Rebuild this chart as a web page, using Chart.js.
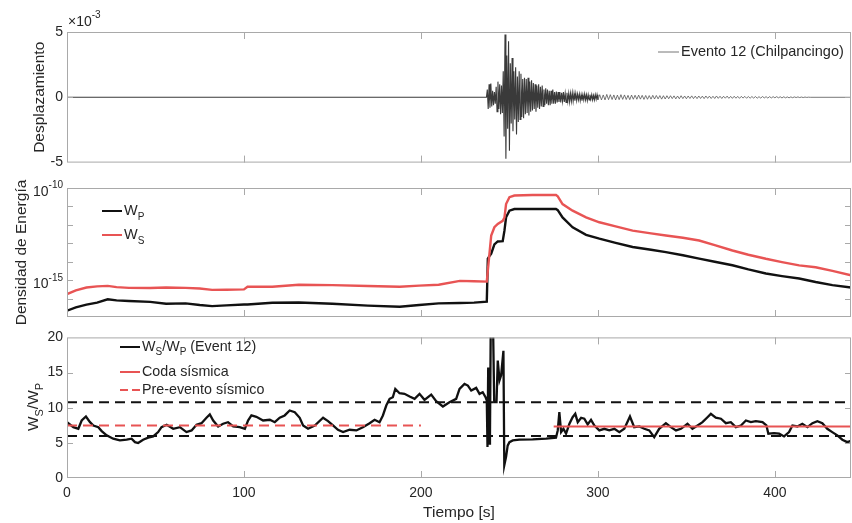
<!DOCTYPE html>
<html><head><meta charset="utf-8">
<script src="https://cdn.jsdelivr.net/npm/chart.js@4/dist/chart.umd.min.js"></script>
<style>
html,body{margin:0;padding:0;background:#fff;width:852px;height:523px;overflow:hidden}
canvas{position:absolute;left:0}
</style></head><body>
<canvas id="c1" width="852" height="175" style="top:0px"></canvas>
<canvas id="c2" width="852" height="150" style="top:175px"></canvas>
<canvas id="c3" width="852" height="198" style="top:325px"></canvas>
<script>
// ---------------- DATA ----------------
const xRange = [0, 443];            // Tiempo [s]
const xTicks = [0, 100, 200, 300, 400];

// Panel 1: displacement (units of 1e-3)
const seisQuiet = [0, 237];          // flat trace before arrival
const seisA_t0 = 237.5, seisA_dt = 0.5;
const seisA = [
  0.6,-0.9,1.0,-0.8,1.05,-0.7,0.5,-0.6,0.4,-0.5,
  0.8,-1.1,1.2,-0.9,1.0,-1.3,0.9,-1.2,2.0,-3.0,
  4.8,-4.7,3.2,-2.4,4.3,-4.1,2.6,-2.0,3.0,-2.6,
  2.0,-1.7,2.3,-2.85,1.6,-1.9,2.0,-1.7,1.8,-1.5,
  1.4,-1.6,1.5,-1.3,1.4,-1.2,1.5,-1.4,1.2,-1.1,
  1.3,-1.0,1.1,-0.9,1.0,-1.1,0.9,-0.8,1.0,-0.9,
  0.8,-0.7,0.9,-0.7,0.6,-0.6,0.7,-0.5,0.6,-0.6,
  0.5,-0.6,0.5,-0.5,0.6,-0.5,0.4,-0.5,0.45,-0.4,
  0.4,-0.35,0.4,-0.4,0.35,-0.3,0.4,-0.35,0.3,-0.4,
  0.35,-0.3,0.3,-0.35,0.3,-0.3,0.35,-0.3,0.3,-0.25,
  0.3,-0.25,0.25,-0.2,0.25,-0.25,0.2,-0.25,0.2,-0.2,
  0.25,-0.2,0.2,-0.25,0.2,-0.2,0.2,-0.15,0.2,-0.2,
  0.15,-0.2,0.2,-0.15,0.2,-0.2
];
const seisB_t0 = 301, seisB_dt = 1;
const seisB = [
  0.2,-0.2,0.18,-0.2,0.22,-0.18,0.2,-0.17,0.18,-0.2,
  0.17,-0.18,0.2,-0.16,0.18,-0.17,0.15,-0.18,0.17,-0.15,
  0.16,-0.15,0.17,-0.14,0.15,-0.16,0.14,-0.15,0.13,-0.14,
  0.15,-0.13,0.14,-0.12,0.13,-0.14,0.12,-0.13,
  0.12,-0.11,0.12,-0.1,0.11,-0.12,0.1,-0.11,0.12,-0.1,
  0.1,-0.11,0.1,-0.09,0.11,-0.1,0.09,-0.1,0.1,-0.09,
  0.09,-0.1,0.1,-0.08,0.09,-0.09,0.08,-0.09,0.1,-0.08,
  0.08,-0.09,0.08,-0.07,0.09,-0.08,0.07,-0.08,0.08,-0.07,
  0.07,-0.08,0.07,-0.06,0.07,-0.07,0.06,-0.07,0.06,-0.06,
  0.06,-0.07,0.05,-0.06,0.06,-0.05,0.05,-0.06,0.05,-0.05,
  0.05,-0.04,0.05,-0.04,0.04,-0.05,0.04,
  -0.04,0.03,-0.04,0.03,-0.03,0.03,-0.02,0.03,-0.02,0.02,-0.02,0.02,-0.01,0.01,0
];

// Panel 2: energy density (log10)
const eT = [0,5,11,17,23,28,35,47,56,67,75,82,90,100,102,116,131,150,170,188,199,210,222,230,
  237.2,237.8,238.7,239.7,241.5,243.4,246.2,247.2,248.1,250,252.8,263,276.3,277.3,280,285.7,293.3,
  300.8,310,319.6,330,338.4,348,357.2,366,376,385,394.9,404,413.7,423,432.5,443];
const wpLog = [-16.66,-16.48,-16.33,-16.22,-16.04,-16.1,-16.13,-16.18,-16.28,-16.26,-16.35,-16.41,-16.37,-16.32,-16.32,-16.23,-16.21,-16.28,-16.38,-16.44,-16.35,-16.26,-16.24,-16.22,
  -16.17,-13.83,-13.7,-13.56,-13.06,-12.9,-12.88,-12.3,-11.59,-11.23,-11.14,-11.14,-11.14,-11.2,-11.6,-12.13,-12.54,
  -12.75,-12.98,-13.2,-13.35,-13.48,-13.65,-13.83,-14.0,-14.19,-14.42,-14.64,-14.78,-14.91,-15.1,-15.27,-15.4];
const wsLog = [-15.76,-15.55,-15.4,-15.34,-15.31,-15.38,-15.42,-15.43,-15.4,-15.42,-15.45,-15.53,-15.52,-15.5,-15.36,-15.36,-15.25,-15.27,-15.32,-15.36,-15.3,-15.25,-15.04,-15.06,
  -15.08,-14.47,-13.57,-12.58,-12.13,-11.95,-11.78,-11.6,-10.87,-10.5,-10.41,-10.38,-10.38,-10.45,-10.87,-11.23,-11.59,
  -11.86,-12.08,-12.31,-12.46,-12.58,-12.7,-12.85,-13.1,-13.39,-13.62,-13.84,-14.02,-14.2,-14.3,-14.5,-14.74];
const eLogTickLabels = [-10, -15];

// Panel 3: Ws/Wp ratio
const ratioT = [0,3.6,6.4,8.3,10.7,13,14.9,17.7,19.6,22.4,26.1,29.9,33.7,36.5,38.4,40.2,43,45.9,48.7,51.5,53.4,56.3,60,63.8,67.5,70.4,73.2,76,78.8,80.7,82.6,85.4,88.2,91,93.9,97.6,100.5,102.3,104.2,107,110.8,114.6,117.4,120.2,123,125.8,128.7,131.5,133.4,136.2,140,144.7,147.5,150.3,153.1,156,159.7,163.5,167.2,171,173.8,176.6,178.5,180.4,182.3,184.1,185.5,187.9,190.7,193.6,196.4,199.2,202,205.8,208.6,212.4,216.1,219.9,221.8,224.6,226.5,228.4,231.2,233.1,234.9,236.5,237.2,237.6,238.0,238.5,239.0,239.5,240.6,241.4,242.7,243.4,244.4,245.3,246.6,247.1,248.1,249,250,251.9,255.6,263.1,270.7,276.3,277.3,278.2,279.2,280.5,282,283.9,285.7,287.2,288.6,290.5,292.3,294.2,296.1,298,300.8,303.6,306.4,309.3,312.1,314.9,318.1,320.5,323.4,326.2,329,331.8,334.6,338.4,341.2,344.1,346.9,350.6,353.4,356.3,359.1,361.9,363.8,366.6,369.5,372.3,375.1,377.9,380.8,383.6,386.4,389.2,393,395.2,396.3,399.5,402.4,405.2,408,409.9,412.7,415.5,418.4,421.2,424,426.8,429.6,432.4,435.3,438.1,440.9,443];
const ratioV = [7.94,7.23,7.0,8.18,8.75,7.94,7.47,7.23,6.67,6.06,5.59,5.35,5.45,5.59,5.1,4.97,5.45,5.73,5.91,6.53,7.23,7.57,7.0,7.23,6.53,6.77,7.57,7.8,8.57,9.04,8.18,7.33,7.72,7.94,7.33,7.23,7.0,8.18,8.9,8.7,8.18,8.28,7.94,8.57,8.9,9.6,9.36,8.57,7.47,7.0,7.47,8.57,8.09,7.47,6.86,6.53,6.86,6.77,7.23,7.8,8.28,7.94,8.9,10.31,11.26,11.49,12.68,12.06,11.97,11.59,11.26,11.97,11.12,11.87,10.92,10.17,10.78,11.26,12.68,13.39,13.15,12.44,12.82,11.97,12.2,11.49,11.0,4.4,15.7,4.9,5.8,24,24,10.78,10.78,16.7,13.9,14.6,18.1,1.8,3.0,4.6,5.1,5.35,5.45,5.49,5.59,5.73,6.77,9.36,6.53,7.0,6.3,7.72,8.65,9.13,7.94,8.57,8.43,7.62,8.28,7.47,6.77,7.0,6.77,7.0,6.53,7.0,8.75,7.23,7.33,7.0,6.77,5.82,7.0,7.8,7.23,6.77,7.0,7.72,7.0,7.47,7.94,8.65,9.13,8.57,8.43,7.8,7.94,7.23,7.47,8.18,7.94,8.09,7.94,7.47,6.3,6.39,6.3,5.91,6.53,7.47,7.33,7.72,7.23,7.8,8.09,7.8,7.0,6.53,6.06,5.45,5.1,5.3];
const codaMean = 7.33, codaSpan = [275, 443];
const preMean = 7.48, preSpan = [0, 200];
const bandUpper = 10.78, bandLower = 5.96;

// ---------------- STYLE ----------------
const FONT = '"Liberation Sans", Arial, Helvetica, sans-serif';
const TXT = '#262626';
const BOX = '#a9a9a9';
const RED = 'rgb(232,84,84)';
Chart.defaults.font.family = FONT;
Chart.defaults.color = TXT;

function richParts(str){
  const parts=[]; const re=/([_^])\{([^}]*)\}/g; let last=0,m;
  while((m=re.exec(str))){ if(m.index>last) parts.push({t:str.slice(last,m.index),k:''});
    parts.push({t:m[2],k:m[1]}); last=re.lastIndex; }
  if(last<str.length) parts.push({t:str.slice(last),k:''});
  return parts;
}
function drawRich(ctx,str,x,y,size,align,color){
  const parts=richParts(str); const small=Math.round(size*0.72); let w=0;
  parts.forEach(p=>{ctx.font=(p.k?small:size)+'px '+FONT; p.w=ctx.measureText(p.t).width; w+=p.w;});
  let cx = align==='right'? x-w : align==='center'? x-w/2 : x;
  ctx.fillStyle=color; ctx.textBaseline='middle'; ctx.textAlign='left';
  parts.forEach(p=>{ctx.font=(p.k?small:size)+'px '+FONT;
    const dy = p.k==='_'? size*0.4 : p.k==='^'? -size*0.45 : 0;
    ctx.fillText(p.t,cx,y+dy); cx+=p.w;});
}
function makeDeco(cfg){
  return {
    id:'deco',
    afterDatasetsDraw(chart){
      const {ctx, chartArea:a, scales}=chart; const L=7;
      ctx.save(); ctx.strokeStyle=BOX; ctx.lineWidth=1; ctx.setLineDash([]);
      ctx.strokeRect(a.left+0.5,a.top+0.5,a.right-a.left-1,a.bottom-a.top-1);
      ctx.beginPath();
      scales.x.ticks.forEach(t=>{const p=Math.round(scales.x.getPixelForValue(t.value))+0.5;
        if(p<=a.left+2||p>=a.right-2) return;
        ctx.moveTo(p,a.bottom); ctx.lineTo(p,a.bottom-L); ctx.moveTo(p,a.top); ctx.lineTo(p,a.top+L);});
      scales.y.ticks.forEach(t=>{const p=Math.round(scales.y.getPixelForValue(t.value))+0.5;
        if(p<=a.top+2||p>=a.bottom-2) return;
        ctx.moveTo(a.left,p); ctx.lineTo(a.left+6,p); ctx.moveTo(a.right,p); ctx.lineTo(a.right-6,p);});
      ctx.stroke(); ctx.restore();
    },
    afterDraw(chart){
      const ctx=chart.ctx; ctx.save();
      (cfg.texts||[]).forEach(t=>{
        if(t.rotate){ ctx.save(); ctx.translate(t.x,t.y); ctx.rotate(-Math.PI/2);
          drawRich(ctx,t.text,0,0,t.size,t.align||'center',TXT); ctx.restore(); }
        else drawRich(ctx,t.text,t.x,t.y,t.size,t.align||'left',TXT);
      });
      if(cfg.logLabels){
        const ys=chart.scales.y;
        cfg.logLabels.forEach(e=>{const p=ys.getPixelForValue(Math.pow(10,e));
          drawRich(ctx,'10^{'+e+'}',63,p+4,14,'right',TXT);});
      }
      if(cfg.legend){
        const lg=cfg.legend; let i=0;
        chart.data.datasets.forEach(ds=>{
          if(!ds.legendText) return; const y=lg.rows[i++];
          ctx.strokeStyle=ds.legendColor||ds.borderColor; ctx.lineWidth=lg.lw||Math.min(ds.borderWidth,2);
          ctx.setLineDash(ds.legendDash||[]);
          ctx.beginPath(); ctx.moveTo(lg.x,y); ctx.lineTo(lg.x+lg.len,y); ctx.stroke();
          ctx.setLineDash([]);
          drawRich(ctx,ds.legendText,lg.x+lg.len+2,y,lg.size,'left',TXT);
        });
      }
      ctx.restore();
    }
  };
}
function xScale(height, showLabels){
  return {type:'linear',min:xRange[0],max:xRange[1],
    ticks:{display:showLabels,stepSize:100,includeBounds:false,padding:7,color:TXT,font:{size:14}},
    afterBuildTicks:s=>{s.ticks=xTicks.map(v=>({value:v}));},
    grid:{display:false,drawTicks:false},border:{display:false},
    title:{display:showLabels,text:'Tiempo [s]',font:{size:15.5},color:TXT,padding:{top:0,bottom:1}},
    afterFit:s=>{s.height=height;}};
}
const base = {responsive:false,animation:false,events:[],
  elements:{point:{radius:0},line:{tension:0,borderCapStyle:'butt',borderJoinStyle:'miter'}}};

// ---------- Chart 1 ----------
const seisData=[{x:seisQuiet[0],y:0},{x:seisQuiet[1],y:0}];
seisA.forEach((v,i)=>seisData.push({x:seisA_t0+i*seisA_dt,y:v}));
seisB.forEach((v,i)=>seisData.push({x:seisB_t0+i*seisB_dt,y:v}));
seisData.push({x:xRange[1],y:0});
new Chart(document.getElementById('c1'),{
  type:'line',
  data:{datasets:[{data:seisData,borderColor:'#3a3a3a',borderWidth:1.1,
    segment:{borderWidth:c=>c.p0.parsed.x>=seisB_t0-1?0.8:1.1, borderColor:c=>c.p0.parsed.x>=seisB_t0-1?'#555':'#3a3a3a'},
    legendText:'Evento 12 (Chilpancingo)',legendColor:'#777'}]},
  options:Object.assign({},base,{
    layout:{padding:{top:32,right:1,bottom:0,left:0}},
    plugins:{legend:{display:false},tooltip:{enabled:false}},
    scales:{
      x:xScale(8,false),
      y:{min:-5,max:5,ticks:{stepSize:5,padding:4,color:TXT,font:{size:14}},
        grid:{display:false,drawTicks:false},border:{display:false},
        title:{display:true,text:'Desplazamiento',font:{size:15.5},color:TXT,padding:{top:30,bottom:0}},
        afterFit:s=>{s.width=67;}}
    }}),
  plugins:[makeDeco({texts:[{text:'×10^{-3}',x:68,y:22,size:14}],
    legend:{x:658,len:21,size:14.5,rows:[52],lw:1}})]
});

// ---------- Chart 2 ----------
const wpData=eT.map((t,i)=>({x:t,y:Math.pow(10,wpLog[i])}));
const wsData=eT.map((t,i)=>({x:t,y:Math.pow(10,wsLog[i])}));
new Chart(document.getElementById('c2'),{
  type:'line',
  data:{datasets:[
    {data:wpData,borderColor:'#111111',borderWidth:2.4,legendText:'W_{P}',order:2},
    {data:wsData,borderColor:RED,borderWidth:2.4,legendText:'W_{S}',order:1}
  ]},
  options:Object.assign({},base,{
    layout:{padding:{top:13,right:1,bottom:0,left:0}},
    plugins:{legend:{display:false},tooltip:{enabled:false}},
    scales:{
      x:xScale(8,false),
      y:{type:'logarithmic',min:1e-17,max:1e-10,ticks:{display:false},
        afterBuildTicks:s=>{const t=[];for(let e=-17;e<=-10;e++)t.push({value:Math.pow(10,e)});s.ticks=t;},
        grid:{display:false,drawTicks:false},border:{display:false},
        title:{display:true,text:'Densidad de Energía',font:{size:15.5},color:TXT,padding:{top:12,bottom:0}},
        afterFit:s=>{s.width=67;}}
    }}),
  plugins:[makeDeco({logLabels:eLogTickLabels,legend:{x:102,len:20,size:14.5,rows:[36,60]}})]
});

// ---------- Chart 3 ----------
const ratioData=ratioT.map((t,i)=>({x:t,y:ratioV[i]}));
new Chart(document.getElementById('c3'),{
  type:'line',
  data:{datasets:[
    {data:ratioData,borderColor:'#111111',borderWidth:2.3,legendText:'W_{S}/W_{P} (Event 12)',order:2},
    {data:[{x:codaSpan[0],y:codaMean},{x:codaSpan[1],y:codaMean}],borderColor:RED,borderWidth:2,legendText:'Coda sísmica',order:0},
    {data:[{x:preSpan[0],y:preMean},{x:preSpan[1],y:preMean}],borderColor:RED,borderWidth:2,borderDash:[10,6],legendText:'Pre-evento sísmico',legendDash:[8,4],order:0},
    {data:[{x:xRange[0],y:bandUpper},{x:xRange[1],y:bandUpper}],borderColor:'#111111',borderWidth:2,borderDash:[10,6],order:3},
    {data:[{x:xRange[0],y:bandLower},{x:xRange[1],y:bandLower}],borderColor:'#111111',borderWidth:2,borderDash:[10,6],order:3}
  ]},
  options:Object.assign({},base,{
    layout:{padding:{top:12,right:1,bottom:0,left:0}},
    plugins:{legend:{display:false},tooltip:{enabled:false}},
    scales:{
      x:xScale(45,true),
      y:{min:0,max:20,ticks:{stepSize:5,padding:4,color:TXT,font:{size:14}},
        grid:{display:false,drawTicks:false},border:{display:false},
        afterFit:s=>{s.width=67;}}
    }}),
  plugins:[makeDeco({texts:[{text:'W_{S}/W_{P}',x:34,y:82,size:15.5,rotate:true}],
    legend:{x:120,len:20,size:14.3,rows:[22,47,65]}})]
});
</script>
</body></html>
